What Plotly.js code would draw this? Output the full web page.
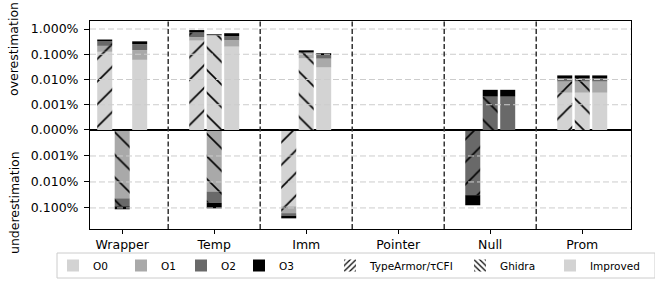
<!DOCTYPE html>
<html><head><meta charset="utf-8">
<script src="https://cdn.plot.ly/plotly-3.0.1.min.js"></script>
<style>body{margin:0;background:#fff}#chart{width:655px;height:282px}</style>
</head><body><div id="chart"></div>
<script>
// ---------------- data (percent) ----------------
const categories = ['Wrapper', 'Temp', 'Imm', 'Pointer', 'Null', 'Prom'];
const levels = ['O0', 'O1', 'O2', 'O3'];
const tools = ['TypeArmor/τCFI', 'Ghidra', 'Improved'];

// overestimation, rows = O0..O3, columns = categories
const overTypeArmor = [
  [0.125, 0.348, 0, 0, 0, 0.0030],
  [0.090, 0.130, 0, 0, 0, 0.0053],
  [0.110, 0.251, 0, 0, 0, 0.0030],
  [0.058, 0.179, 0, 0, 0, 0.0032]
];
const overGhidra = [
  [0, 0.546, 0.069, 0, 0, 0.0030],
  [0, 0.015, 0.041, 0, 0, 0.0053],
  [0, 0.020, 0.011, 0, 0.0021, 0.0030],
  [0, 0.036, 0.022, 0, 0.0018, 0.0032]
];
const overImproved = [
  [0.060, 0.201, 0.030, 0, 0, 0.0030],
  [0.087, 0.157, 0.037, 0, 0, 0.0053],
  [0.107, 0.168, 0.026, 0, 0.0021, 0.0030],
  [0.071, 0.155, 0.017, 0, 0.0018, 0.0032]
];
// underestimation
const underTypeArmor = [
  [0, 0, 0.0863, 0, 0, 0],
  [0, 0, 0.072, 0, 0, 0],
  [0, 0, 0.040, 0, 0.0322, 0],
  [0, 0, 0.053, 0, 0.0465, 0]
];
const underGhidra = [
  [0, 0, 0, 0, 0, 0],
  [0.0425, 0.0233, 0, 0, 0, 0],
  [0.044, 0.0397, 0, 0, 0, 0],
  [0.026, 0.041, 0, 0, 0, 0]
];
const underImproved = [
  [0, 0, 0, 0, 0, 0],
  [0, 0, 0, 0, 0, 0],
  [0, 0, 0, 0, 0, 0],
  [0, 0, 0, 0, 0, 0]
];

const topTickVals = [0, 1, 2, 3, 4];
const topTickText = ['0.000%', '0.001%', '0.010%', '0.100%', '1.000%'];
const bottomTickVals = [1, 2, 3];
const bottomTickText = ['0.001%', '0.010%', '0.100%'];

// ---------------- styling ----------------
const levelColors = ['#d3d3d3', '#a9a9a9', '#696969', '#000000'];
const toolShapes = ['/', '\\', ''];
const LT = 0.001; // symlog linear threshold (percent)
function sym(v) { return v <= LT ? v / LT : 1 + Math.log10(v / LT); }

const PX0 = 90, PW = 541, PB = 229, PH = 208; // plot area in pixels
const px = x => (x - PX0) / PW;
const py = y => (PB - y) / PH;

const barW = 0.163, step = 0.19;
const toolOffsets = [-step, 0, step];
const traces = [];

function pattern(ti, bg, size, solidity) {
  if (!toolShapes[ti]) return undefined;
  return {shape: toolShapes[ti], fgcolor: '#000', bgcolor: bg, size: size, solidity: solidity, fillmode: 'replace'};
}

function addPanel(data, yaxis, xaxis) {
  data.forEach((tool, ti) => {
    let cum = categories.map(() => 0);
    levels.forEach((lv, li) => {
      const next = cum.map((c, i) => c + tool[li][i]);
      const base = cum.map(sym);
      const h = next.map((n, i) => sym(n) - base[i]);
      traces.push({
        type: 'bar', x: categories, y: h, base: base,
        width: barW, offset: toolOffsets[ti] - barW / 2,
        xaxis: xaxis, yaxis: yaxis,
        marker: {color: levelColors[li], line: {width: 0}, pattern: pattern(ti, levelColors[li], 16, 0.1)},
        showlegend: false, hoverinfo: 'skip'
      });
      cum = next;
    });
  });
}
addPanel([overTypeArmor, overGhidra, overImproved], 'y', 'x2');
addPanel([underTypeArmor, underGhidra, underImproved], 'y2', 'x');

// legend entries, each in its own legend box so that spacing can follow the reference
const legendTextX = [93, 161, 221, 279, 370, 500, 590];
const legendNames = levels.concat(tools);
const legendLayouts = {};
legendNames.forEach((nm, k) => {
  const key = k === 0 ? 'legend' : 'legend' + (k + 1);
  const isTool = k >= 4;
  const ti = k - 4;
  traces.push({
    type: 'bar', x: [categories[3]], y: [0], base: [0], xaxis: 'x2', yaxis: 'y',
    name: nm, legend: key,
    marker: isTool
      ? {color: ti === 2 ? levelColors[0] : '#ffffff', line: {width: 0}, pattern: pattern(ti, '#ffffff', 5, 0.3)}
      : {color: levelColors[k], line: {width: 0}},
    showlegend: true, hoverinfo: 'skip'
  });
  legendLayouts[key] = {orientation: 'h', x: px(legendTextX[k] - 40), xanchor: 'left', y: py(265.5), yanchor: 'middle',
    borderwidth: 0, bgcolor: 'rgba(0,0,0,0)', font: {size: 10.5}};
});

const shapes = [];
// legend frame
shapes.push({type: 'rect', xref: 'paper', yref: 'paper', x0: px(57), x1: px(655), y0: py(253), y1: py(278),
  line: {color: '#cccccc', width: 1}, fillcolor: '#ffffff', layer: 'below'});
topTickVals.slice(1).forEach(v => shapes.push({type: 'line', xref: 'paper', yref: 'y', x0: 0, x1: 1, y0: v, y1: v,
  line: {color: '#cccccc', width: 1, dash: '6px,3px'}, layer: 'above'}));
bottomTickVals.forEach(v => shapes.push({type: 'line', xref: 'paper', yref: 'y2', x0: 0, x1: 1, y0: v, y1: v,
  line: {color: '#cccccc', width: 1, dash: '6px,3px'}, layer: 'above'}));
for (let i = 0; i < categories.length - 1; i++) {
  shapes.push({type: 'line', xref: 'x', yref: 'paper', x0: i + 0.5, x1: i + 0.5, y0: 0, y1: 1,
    line: {color: '#333333', width: 1.5, dash: '5px,2.5px'}, layer: 'above'});
}

const layout = Object.assign({
  width: 655, height: 282,
  margin: {l: 90, r: 24, t: 21, b: 53, autoexpand: false},
  paper_bgcolor: '#ffffff', plot_bgcolor: '#ffffff',
  font: {family: 'DejaVu Sans', size: 12.5, color: '#000'},
  barmode: 'overlay',
  xaxis: {anchor: 'y2', type: 'category', range: [-0.35, 5.53], ticks: 'outside', ticklen: 4, tickcolor: '#000',
    showline: true, linecolor: '#000', linewidth: 1, mirror: true, showgrid: false, zeroline: false},
  xaxis2: {anchor: 'y', matches: 'x', type: 'category', showticklabels: false, ticks: '', showline: true, mirror: true,
    linecolor: '#000', linewidth: 1, showgrid: false, zeroline: false},
  yaxis: {domain: [0.476, 1], anchor: 'x2', range: [0, 4.317], tickmode: 'array', tickvals: topTickVals, ticktext: topTickText,
    ticks: 'outside', ticklen: 5, tickcolor: '#000', showline: true, mirror: true, linecolor: '#000', linewidth: 1,
    showgrid: false, zeroline: false, ticklabelstandoff: 3},
  yaxis2: {domain: [0, 0.476], anchor: 'x', range: [3.81, 0], tickmode: 'array', tickvals: bottomTickVals, ticktext: bottomTickText,
    ticks: 'outside', ticklen: 5, tickcolor: '#000', showline: true, mirror: true, linecolor: '#000', linewidth: 1,
    showgrid: false, zeroline: false, ticklabelstandoff: 3},
  shapes: shapes,
  annotations: [
    {text: 'overestimation', textangle: -90, xref: 'paper', yref: 'paper', x: px(14), y: py(49),
      showarrow: false, xanchor: 'center', yanchor: 'middle', font: {size: 12.5}},
    {text: 'underestimation', textangle: -90, xref: 'paper', yref: 'paper', x: px(14), y: py(203),
      showarrow: false, xanchor: 'center', yanchor: 'middle', font: {size: 12.5}}
  ]
}, legendLayouts);

Plotly.newPlot('chart', traces, layout, {staticPlot: true, displayModeBar: false});
</script>
</body></html>
